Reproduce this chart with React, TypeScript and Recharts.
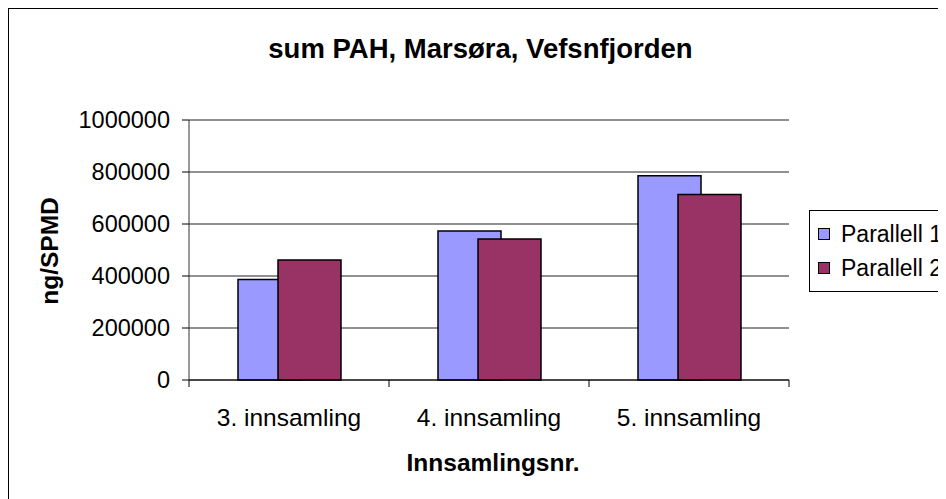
import type { ReactElement } from 'react';
import { Bar, BarChart, CartesianGrid, Legend, XAxis, YAxis } from 'recharts';

const categories = ['3. innsamling', '4. innsamling', '5. innsamling'];
const parallell1 = [387000, 573000, 786000];
const parallell2 = [462000, 542000, 713000];
const yTicks = [0, 200000, 400000, 600000, 800000, 1000000];

const seriesNames = ['Parallell 1', 'Parallell 2'];
const seriesColors = ['#9999ff', '#993366'];

const FONT = '"Liberation Sans", Arial, sans-serif';

const data = categories.map((name, i) => ({
  name,
  p1: parallell1[i],
  p2: parallell2[i],
}));

// Category label at the band centre, plus Excel-style tick marks on the band edges.
function CategoryTick(props: any): ReactElement {
  const { x, y, payload, index } = props;
  const half = payload?.offset ?? 100;
  return (
    <g>
      <line x1={x - half} x2={x - half} y1={y} y2={y + 7} stroke="#000" />
      {index === categories.length - 1 && (
        <line x1={x + half} x2={x + half} y1={y} y2={y + 7} stroke="#000" />
      )}
      <text x={x} y={y + 46} textAnchor="middle" fontSize={24.5} fontFamily={FONT} fill="#000">
        {payload.value}
      </text>
    </g>
  );
}

function LegendBox(): ReactElement {
  return (
    <div
      style={{
        border: '1px solid #000',
        width: 160,
        padding: '6px 0 6px 8px',
        fontFamily: FONT,
        fontSize: 23,
        background: '#fff',
      }}
    >
      {seriesNames.map((n, i) => (
        <div key={n} style={{ display: 'flex', alignItems: 'center', height: 34 }}>
          <span
            style={{
              display: 'inline-block',
              width: 10,
              height: 10,
              border: '1.5px solid #000',
              background: seriesColors[i],
              marginRight: 11,
            }}
          />
          {n}
        </div>
      ))}
    </div>
  );
}

export default function App(): ReactElement {
  return (
    <div style={{ position: 'relative', width: 938, height: 491, overflow: 'hidden', background: '#fff' }}>
      <div
        style={{
          position: 'absolute',
          left: -1,
          top: -1,
          width: 1000,
          height: 600,
          border: '2px solid #000',
          pointerEvents: 'none',
        }}
      />
      <div
        style={{
          position: 'absolute',
          left: 0,
          width: 945,
          top: 25,
          textAlign: 'center',
          fontFamily: FONT,
          fontWeight: 'bold',
          fontSize: 27.5,
        }}
      >
        sum PAH, Marsøra, Vefsnfjorden
      </div>
      <div
        style={{
          position: 'absolute',
          left: 42,
          top: 243,
          transform: 'translate(-50%, -50%) rotate(-90deg)',
          fontFamily: FONT,
          fontWeight: 'bold',
          fontSize: 24.5,
          whiteSpace: 'nowrap',
        }}
      >
        ng/SPMD
      </div>
      <div
        style={{
          position: 'absolute',
          left: 285,
          width: 400,
          top: 441,
          textAlign: 'center',
          fontFamily: FONT,
          fontWeight: 'bold',
          fontSize: 24.5,
        }}
      >
        Innsamlingsnr.
      </div>
      <BarChart
        width={938}
        height={491}
        data={data}
        barSize={63}
        barGap={-23}
        margin={{ top: 112, right: 157, bottom: 59, left: 0 }}
        style={{ position: 'absolute', left: 0, top: 0 }}
      >
        <CartesianGrid vertical={false} stroke="#222" />
        <XAxis
          dataKey="name"
          height={60}
          axisLine={{ stroke: '#000' }}
          tickLine={false}
          tickSize={0}
          tickMargin={0}
          interval={0}
          tick={<CategoryTick />}
        />
        <YAxis
          width={181}
          domain={[0, 1000000]}
          ticks={yTicks}
          interval={0}
          axisLine={{ stroke: '#333' }}
          tickLine={{ stroke: '#000' }}
          tickSize={7}
          tickMargin={12}
          tick={{ fontSize: 23.5, fontFamily: FONT, fill: '#000' }}
        />
        <Legend
          layout="vertical"
          align="center"
          verticalAlign="middle"
          content={<LegendBox />}
          wrapperStyle={{ left: 801, top: 202, width: 170 }}
        />
        <Bar dataKey="p1" name={seriesNames[0]} fill={seriesColors[0]} stroke="#000" strokeWidth={1.5} isAnimationActive={false} />
        <Bar dataKey="p2" name={seriesNames[1]} fill={seriesColors[1]} stroke="#000" strokeWidth={1.5} isAnimationActive={false} />
      </BarChart>
    </div>
  );
}
